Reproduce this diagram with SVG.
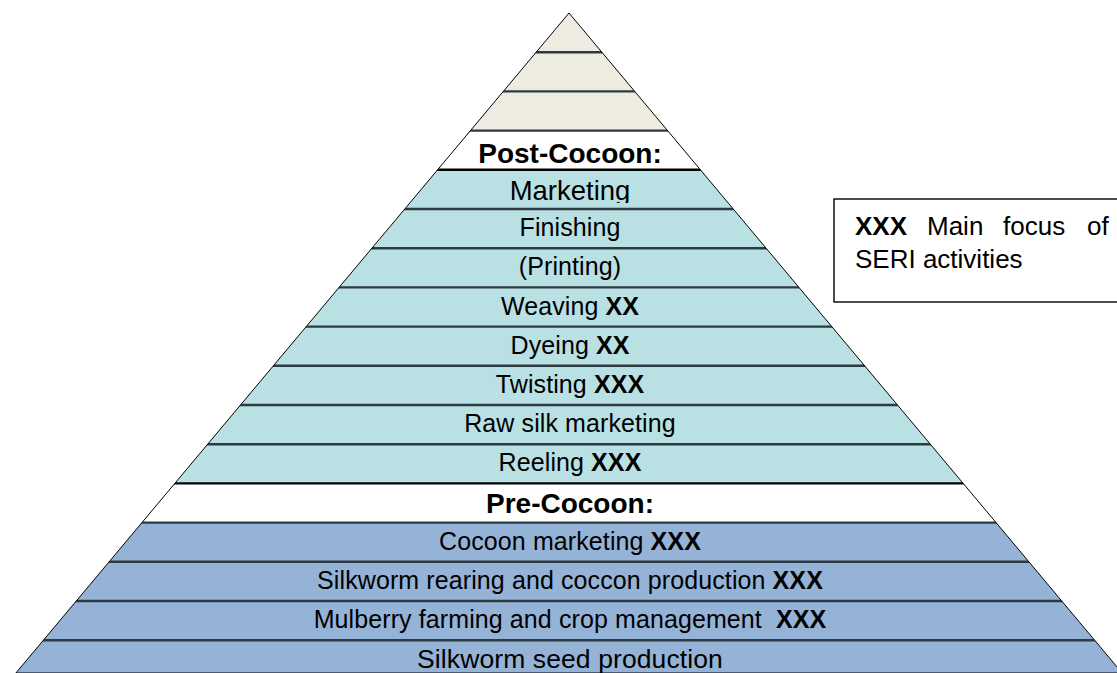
<svg xmlns="http://www.w3.org/2000/svg" width="1117" height="673" viewBox="0 0 1117 673">
<style>
.t{font-family:"Liberation Sans",Arial,sans-serif;font-size:25px;letter-spacing:0.1px;fill:#000;text-anchor:middle}
.b{font-weight:bold}
.mk{font-size:27.5px;letter-spacing:0}
.sd{font-size:26.5px}
.hd{font-family:"Liberation Sans",Arial,sans-serif;font-size:28px;font-weight:bold;fill:#000;text-anchor:middle}
.beige{fill:#EEECE1}
.teal{fill:#B9E0E3}
.blue{fill:#95B3D7}
.white{fill:#FFFFFF}
.sep{stroke:#2E3A42;stroke-width:2.4;fill:none}
.lg{font-family:"Liberation Sans",Arial,sans-serif;font-size:26px;fill:#000}
</style>
<defs>
<clipPath id="pyr"><polygon points="569,13 15.92,673 1122.08,673"/></clipPath>
<clipPath id="mkc"><rect x="0" y="170" width="1117" height="33"/></clipPath>
</defs>
<rect x="0" y="0" width="1117" height="673" fill="#FFFFFF"/>
<g clip-path="url(#pyr)">
<g id="band-top1"><rect class="beige" x="0" y="13" width="1117" height="39.2"/></g>
<g id="band-top2"><rect class="beige" x="0" y="52.2" width="1117" height="39.2"/></g>
<g id="band-top3"><rect class="beige" x="0" y="91.4" width="1117" height="39.2"/></g>
<g id="band-post"><rect class="white" x="0" y="130.6" width="1117" height="39.2"/></g>
<g id="band-marketing"><rect class="teal" x="0" y="169.8" width="1117" height="39.2"/></g>
<g id="band-finishing"><rect class="teal" x="0" y="209" width="1117" height="39.2"/></g>
<g id="band-printing"><rect class="teal" x="0" y="248.2" width="1117" height="39.2"/></g>
<g id="band-weaving"><rect class="teal" x="0" y="287.4" width="1117" height="39.2"/></g>
<g id="band-dyeing"><rect class="teal" x="0" y="326.6" width="1117" height="39.2"/></g>
<g id="band-twisting"><rect class="teal" x="0" y="365.8" width="1117" height="39.2"/></g>
<g id="band-rawsilk"><rect class="teal" x="0" y="405" width="1117" height="39.2"/></g>
<g id="band-reeling"><rect class="teal" x="0" y="444.2" width="1117" height="39.2"/></g>
<g id="band-pre"><rect class="white" x="0" y="483.4" width="1117" height="39.2"/></g>
<g id="band-cocoonmkt"><rect class="blue" x="0" y="522.6" width="1117" height="39.2"/></g>
<g id="band-rearing"><rect class="blue" x="0" y="561.8" width="1117" height="39.2"/></g>
<g id="band-mulberry"><rect class="blue" x="0" y="601" width="1117" height="39.2"/></g>
<g id="band-seed"><rect class="blue" x="0" y="640.2" width="1117" height="40"/></g>
<g id="separators">
<line class="sep" x1="0" y1="52.2" x2="1117" y2="52.2"/>
<line class="sep" x1="0" y1="91.4" x2="1117" y2="91.4"/>
<line class="sep" x1="0" y1="130.6" x2="1117" y2="130.6"/>
<line class="sep" x1="0" y1="169.8" x2="1117" y2="169.8" style="stroke:#000"/>
<line class="sep" x1="0" y1="209" x2="1117" y2="209"/>
<line class="sep" x1="0" y1="248.2" x2="1117" y2="248.2"/>
<line class="sep" x1="0" y1="287.4" x2="1117" y2="287.4"/>
<line class="sep" x1="0" y1="326.6" x2="1117" y2="326.6"/>
<line class="sep" x1="0" y1="365.8" x2="1117" y2="365.8"/>
<line class="sep" x1="0" y1="405" x2="1117" y2="405"/>
<line class="sep" x1="0" y1="444.2" x2="1117" y2="444.2"/>
<line class="sep" x1="0" y1="483.4" x2="1117" y2="483.4" style="stroke:#000"/>
<line class="sep" x1="0" y1="522.6" x2="1117" y2="522.6"/>
<line class="sep" x1="0" y1="561.8" x2="1117" y2="561.8"/>
<line class="sep" x1="0" y1="601" x2="1117" y2="601"/>
<line class="sep" x1="0" y1="640.2" x2="1117" y2="640.2"/>
</g>
</g>
<polygon points="569,13 15.92,673 1122.08,673" fill="none" stroke="#000" stroke-width="1"/>
<g id="labels">
<text class="hd" x="570" y="163">Post-Cocoon:</text>
<text class="t mk" x="570" y="200" clip-path="url(#mkc)">Marketing</text>
<text class="t" x="570" y="236">Finishing</text>
<text class="t" x="570" y="275">(Printing)</text>
<text class="t" x="570" y="315">Weaving <tspan class="b">XX</tspan></text>
<text class="t" x="570" y="354">Dyeing <tspan class="b">XX</tspan></text>
<text class="t" x="570" y="393">Twisting <tspan class="b">XXX</tspan></text>
<text class="t" x="570" y="432">Raw silk marketing</text>
<text class="t" x="570" y="471">Reeling <tspan class="b">XXX</tspan></text>
<text class="hd" x="570" y="513">Pre-Cocoon:</text>
<text class="t" x="570" y="550">Cocoon marketing <tspan class="b">XXX</tspan></text>
<text class="t" x="570" y="589">Silkworm rearing and coccon production <tspan class="b">XXX</tspan></text>
<text class="t" x="570" y="628" xml:space="preserve">Mulberry farming and crop management  <tspan class="b">XXX</tspan></text>
<text class="t sd" x="570" y="668">Silkworm seed production</text>
</g>
<g id="legend">
<rect x="834" y="199" width="300" height="103" fill="#FFFFFF" stroke="#000" stroke-width="1.4"/>
<text class="lg" y="235"><tspan x="855" font-weight="bold">XXX</tspan><tspan x="927">Main</tspan><tspan x="1003">focus</tspan><tspan x="1087">of</tspan></text>
<text class="lg" x="855" y="268">SERI activities</text>
</g>
</svg>
